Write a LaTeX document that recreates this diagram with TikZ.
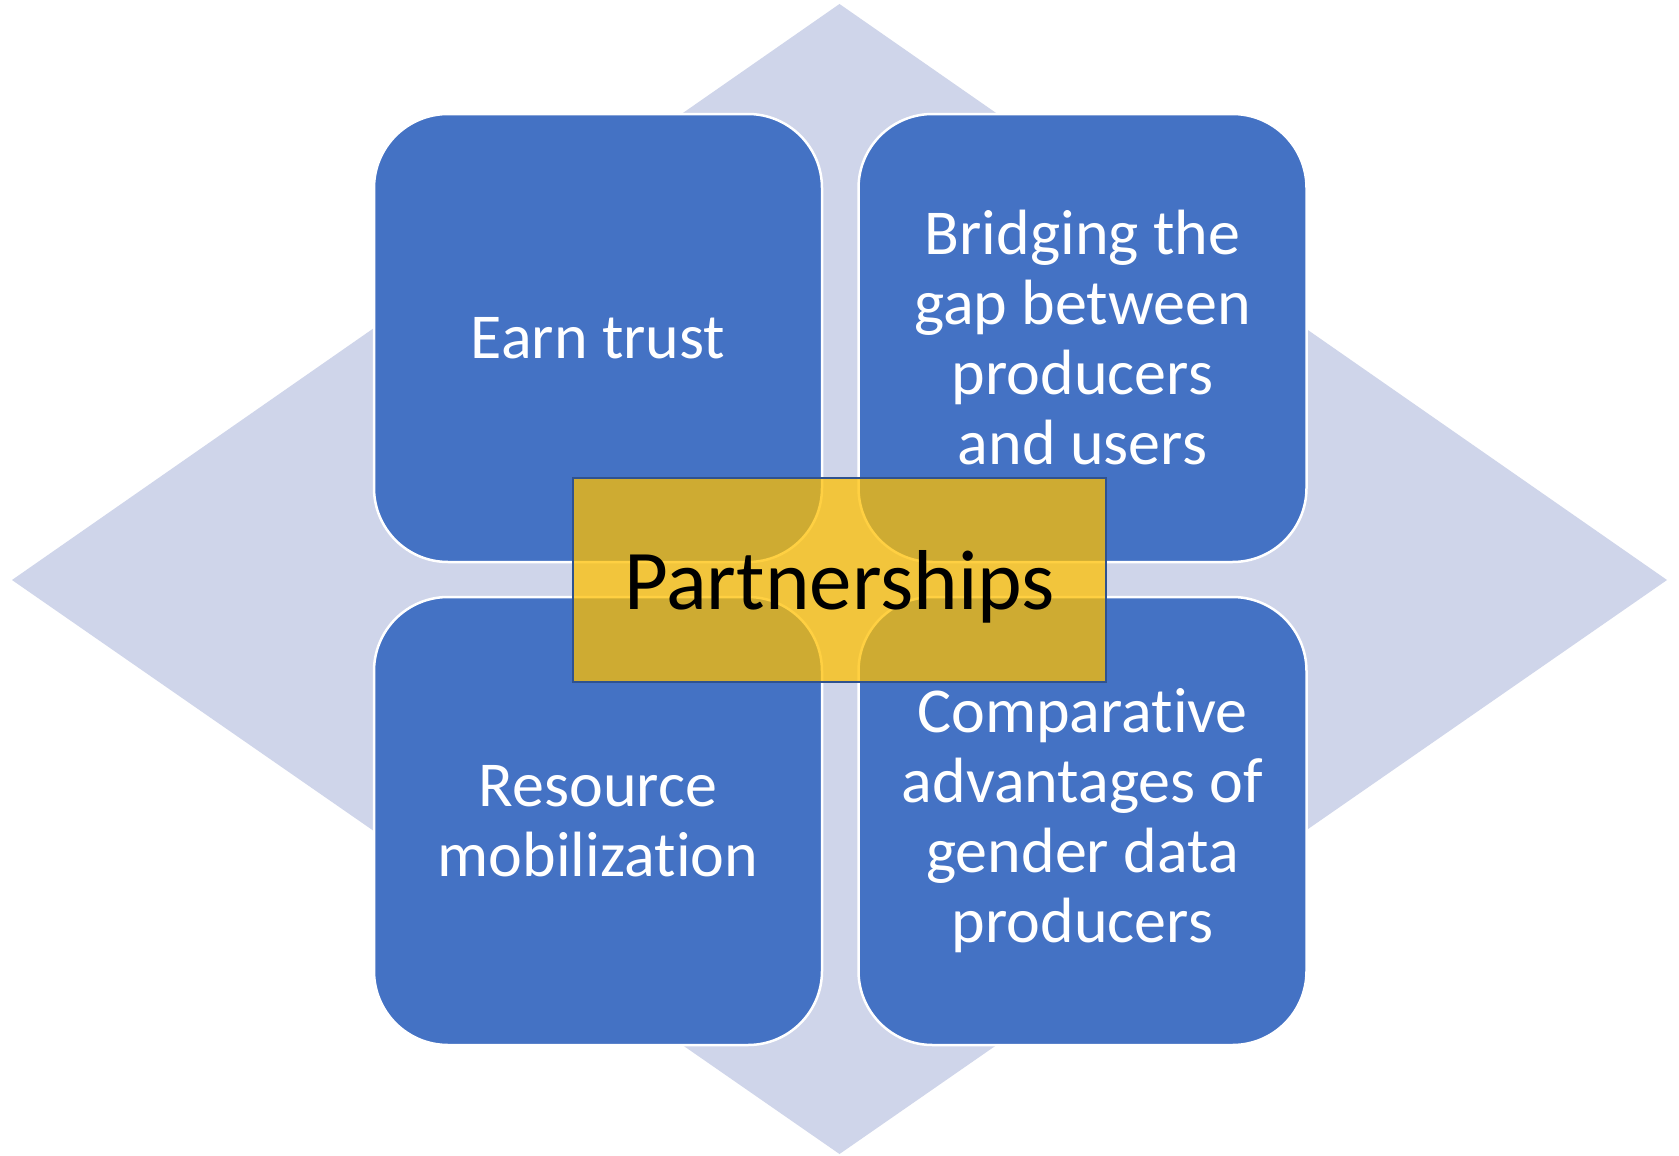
\documentclass[tikz,border=0pt]{standalone}
\usepackage{fontspec}
\setmainfont{Carlito}[Ligatures=NoCommon]
\definecolor{diamc}{RGB}{207,213,234}
\definecolor{boxc}{RGB}{68,114,196}
\definecolor{goldc}{RGB}{255,192,0}
\definecolor{edgec}{RGB}{47,82,143}
\tikzset{
  quad/.style={draw=white, line width=2.5pt, fill=boxc, rounded corners=74pt,
    minimum width=448pt, minimum height=448pt, inner sep=0pt, align=center,
    text=white, font=\fontsize{64}{70}\selectfont},
  hub/.style={draw=edgec, line width=2pt, fill=goldc, fill opacity=0.74, text opacity=1,
    minimum width=533pt, minimum height=204pt, inner sep=0pt,
    text=black, font=\fontsize{85}{100}\selectfont},
}
\begin{document}
\begin{tikzpicture}[x=1pt,y=-1pt]
\useasboundingbox (0,0) rectangle (1679,1156);
\fill[white] (0,0) rectangle (1679,1156);
\fill[diamc] (839.5,4) -- (1667,580) -- (839.5,1154) -- (12,580) -- cycle;
\node[quad] (tl) at (598,338) {Earn trust};
\node[quad] (tr) at (1082.5,338) {Bridging the\\gap between\\producers\\and users};
\node[quad] (bl) at (598,821) {Resource\\mobilization};
\node[quad] (br) at (1082.5,821) {Comparative\\advantages of\\gender data\\producers};
\node[hub] (hub) at (839.5,580) {\raisebox{-29pt}[0pt][0pt]{Partnerships}};
\end{tikzpicture}
\end{document}
